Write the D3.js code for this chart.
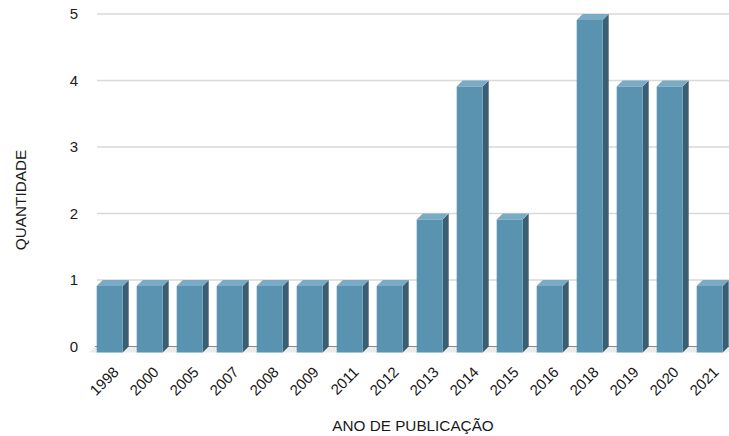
<!DOCTYPE html>
<html><head><meta charset="utf-8">
<script src="https://cdn.jsdelivr.net/npm/d3@7"></script>
<style>body{margin:0;background:#fff}svg{display:block}text{font-family:"Liberation Sans",Arial,sans-serif;fill:#1a1a1a}</style>
</head><body>
<svg id="c" width="729" height="436"></svg>
<script>
const years = ["1998","2000","2005","2007","2008","2009","2011","2012","2013","2014","2015","2016","2018","2019","2020","2021"];
const counts = [1,1,1,1,1,1,1,1,2,4,2,1,5,4,4,1];
const yTicks = [0,1,2,3,4,5];
const xTitle = "ANO DE PUBLICAÇÃO";
const yTitle = "QUANTIDADE";

const svg = d3.select("#c");
const D = 6; // 3D depth
const x = d3.scaleBand().domain(years).range([95.7, 735.7]).paddingInner(0.35).paddingOuter(0.175);
const y = d3.scaleLinear().domain([0,5]).range([346.5, 14]);
const y0 = y(0);

// gridlines
svg.append("g").selectAll("line").data(yTicks.filter(t=>t>0)).join("line")
  .attr("x1",97).attr("x2",729).attr("y1",d=>y(d)).attr("y2",d=>y(d))
  .attr("stroke","#d9d9d9").attr("stroke-width",1.5);

// floor
svg.append("path")
  .attr("d",`M${95},${y0} L729,${y0} L729,${y0+D} L${95-D},${y0+D} Z`)
  .attr("fill","#ececec");
svg.append("line").attr("x1",95).attr("x2",729).attr("y1",y0).attr("y2",y0)
  .attr("stroke","#8a8a8a").attr("stroke-width",1.2);

// y labels
svg.append("g").selectAll("text").data(yTicks).join("text")
  .attr("x",78).attr("y",d=>y(d)).attr("dy","0.35em").attr("text-anchor","end")
  .attr("font-size",15).text(d=>d);

// bars
const data = years.map((yr,i)=>({yr, v:counts[i]}));
const bars = svg.append("g").selectAll("g").data(data).join("g");
const w = x.bandwidth();
bars.append("path").attr("fill","#3b5f72").attr("d",d=>{
  const fx = x(d.yr)-D, fy = y(d.v)+D;
  return `M${fx+w},${fy} L${fx+w+D},${fy-D} L${fx+w+D},${y0} L${fx+w},${y0+D} Z`;
});
bars.append("path").attr("fill","#7aabc4").attr("d",d=>{
  const fx = x(d.yr)-D, fy = y(d.v)+D;
  return `M${fx},${fy} L${fx+D},${fy-D} L${fx+w+D},${fy-D} L${fx+w},${fy} Z`;
});
bars.append("rect").attr("fill","#5a93b0")
  .attr("x",d=>x(d.yr)-D).attr("y",d=>y(d.v)+D).attr("width",w).attr("height",d=>y0-y(d.v));

// x labels
svg.append("g").selectAll("text").data(years).join("text")
  .attr("text-anchor","end").attr("font-size",15)
  .attr("transform",d=>`translate(${x(d)-D+w/2+10},373) rotate(-45)`)
  .text(d=>d);

// titles
svg.append("text").attr("x",413).attr("y",431).attr("text-anchor","middle").attr("font-size",15.3).text(xTitle);
svg.append("text").attr("transform","translate(26,200) rotate(-90)").attr("text-anchor","middle").attr("font-size",15.3).text(yTitle);
</script>
</body></html>
